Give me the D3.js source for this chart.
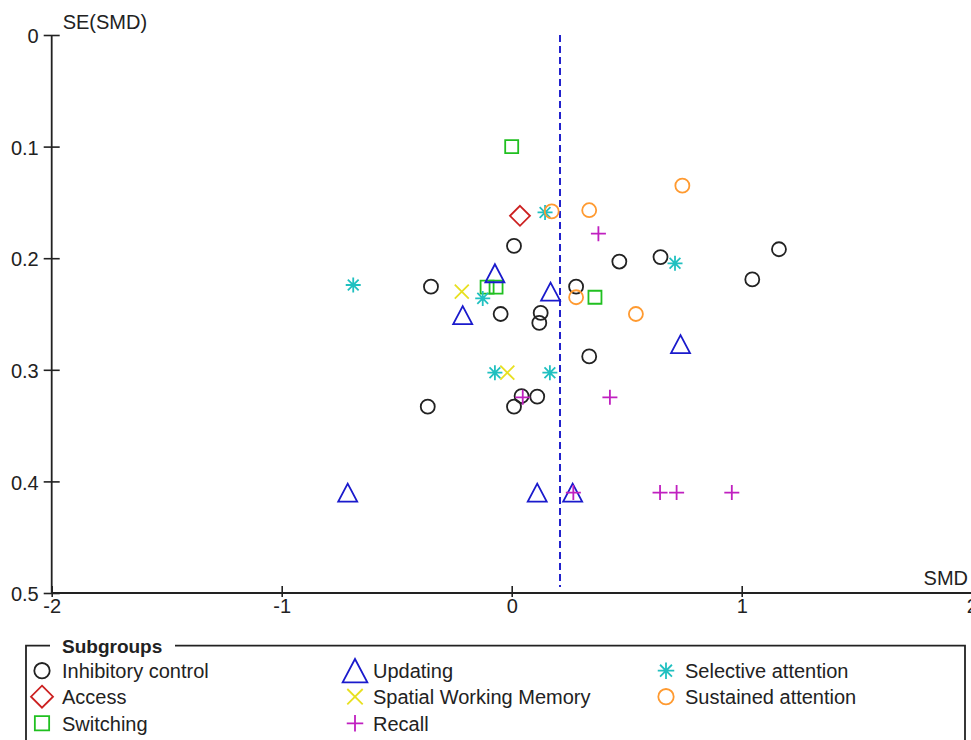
<!DOCTYPE html>
<html>
<head>
<meta charset="utf-8">
<script src="https://cdn.jsdelivr.net/npm/d3@7"></script>
<style>
  body { margin: 0; background: #fff; }
  svg { font-family: "Liberation Sans", Arial, sans-serif; }
  .tick text { font-size: 20px; fill: #222; }
</style>
</head>
<body>
<div class="chart"></div>
<script>
// funnel plot data: [SMD, SE(SMD)] per subgroup
let inhibitory = [[0.01, 0.189], [0.468, 0.203], [0.647, 0.199], [1.162, 0.192], [1.046, 0.219],
  [-0.351, 0.2255], [0.28, 0.2255], [-0.048, 0.250], [0.126, 0.249], [0.12, 0.258],
  [0.337, 0.288], [0.043, 0.3235], [0.111, 0.324], [0.01, 0.333], [-0.365, 0.333]];
let access = [[0.036, 0.162]];
let switching = [[0.0, 0.100], [-0.107, 0.226], [-0.068, 0.226], [0.362, 0.235]];
let updating = [[-0.073, 0.2135], [0.169, 0.230], [-0.213, 0.251], [0.734, 0.277],
  [-0.713, 0.410], [0.111, 0.410], [0.265, 0.410]];
let spatialWM = [[-0.217, 0.230], [-0.019, 0.3026]];
let recall = [[0.377, 0.178], [0.048, 0.3247], [0.427, 0.3247], [0.268, 0.410],
  [0.645, 0.410], [0.717, 0.410], [0.957, 0.410]];
let selective = [[0.145, 0.159], [0.71, 0.2046], [-0.689, 0.224], [-0.126, 0.236],
  [-0.073, 0.3026], [0.166, 0.3026]];
let sustained = [[0.174, 0.158], [0.337, 0.157], [0.742, 0.135], [0.28, 0.235], [0.54, 0.250]];

let pooledSMD = 0.21;
let xTicks = [-2, -1, 0, 1, 2];
let yTicks = [0, 0.1, 0.2, 0.3, 0.4, 0.5];

let groups = [
  {name: "Inhibitory control", shape: "circle", color: "#222222", data: inhibitory},
  {name: "Access", shape: "diamond", color: "#cc2020", data: access},
  {name: "Switching", shape: "square", color: "#20c020", data: switching},
  {name: "Updating", shape: "triangle", color: "#1a1acc", data: updating},
  {name: "Spatial Working Memory", shape: "cross", color: "#e8e020", data: spatialWM},
  {name: "Recall", shape: "plus", color: "#c020c0", data: recall},
  {name: "Selective attention", shape: "asterisk", color: "#20c0c0", data: selective},
  {name: "Sustained attention", shape: "circle", color: "#ff9a30", data: sustained}
];

let width = 971;
let height = 740;

let svg = d3.select(".chart")
  .append("svg")
  .attr("width", width)
  .attr("height", height);

let x = d3.scaleLinear().domain([-2, 2]).range([51.7, 971.7]);
let y = d3.scaleLinear().domain([0, 0.5]).range([35, 593]);

function shapePath(shape, k) {
  if (shape == "diamond") {
    let r = 10 * k;
    return "M0," + (-r) + "L" + r + ",0L0," + r + "L" + (-r) + ",0Z";
  }
  if (shape == "square") {
    let r = 6.5 * k;
    return "M" + (-r) + "," + (-r) + "H" + r + "V" + r + "H" + (-r) + "Z";
  }
  if (shape == "triangle") {
    let w = 9.5 * k, h = 9 * k;
    return "M0," + (-h) + "L" + w + "," + h + "L" + (-w) + "," + h + "Z";
  }
  if (shape == "cross") {
    let r = 7 * k;
    return "M" + (-r) + "," + (-r) + "L" + r + "," + r + "M" + r + "," + (-r) + "L" + (-r) + "," + r;
  }
  if (shape == "plus") {
    let r = 7.5 * k;
    return "M" + (-r) + ",0H" + r + "M0," + (-r) + "V" + r;
  }
  if (shape == "asterisk") {
    let r = 7.5 * k, d = r * 0.72;
    return "M" + (-r) + ",0H" + r + "M0," + (-r) + "V" + r +
      "M" + (-d) + "," + (-d) + "L" + d + "," + d + "M" + d + "," + (-d) + "L" + (-d) + "," + d;
  }
  // circle
  let r = 7 * k;
  return "M" + r + ",0A" + r + "," + r + " 0 1,1 " + (-r) + ",0A" + r + "," + r + " 0 1,1 " + r + ",0Z";
}

// axes
let yAxis = svg.append("g")
  .attr("transform", "translate(" + x(-2) + ",0)")
  .call(d3.axisLeft(y).tickValues(yTicks).tickSize(8).tickPadding(6)
    .tickFormat(function(d) { return d == 0 ? "0" : d3.format(".1f")(d); }));
yAxis.select(".domain").remove();
yAxis.selectAll(".tick line").attr("x1", -8).attr("x2", 8).attr("stroke", "#222").attr("stroke-width", 1.6);
yAxis.selectAll(".tick text").attr("x", -13).attr("dy", "0.38em");

let xAxis = svg.append("g")
  .attr("transform", "translate(0," + y(0.5) + ")")
  .call(d3.axisBottom(x).tickValues(xTicks).tickSize(4).tickPadding(4)
    .tickFormat(function(d) { return String(d); }));
xAxis.select(".domain").remove();
xAxis.selectAll(".tick line").attr("y1", -7).attr("y2", 4).attr("stroke", "#222").attr("stroke-width", 1.6);
xAxis.selectAll(".tick text").attr("y", 6).attr("dy", "0.72em");

svg.append("line")
  .attr("x1", x(-2)).attr("x2", width)
  .attr("y1", y(0.5)).attr("y2", y(0.5))
  .attr("stroke", "#222").attr("stroke-width", 1.8);
svg.append("line")
  .attr("x1", x(-2)).attr("x2", x(-2))
  .attr("y1", y(0)).attr("y2", y(0.5))
  .attr("stroke", "#222").attr("stroke-width", 1.8);

svg.append("text")
  .attr("x", x(-2) + 11).attr("y", 29)
  .attr("font-size", 20).attr("fill", "#222")
  .text("SE(SMD)");
svg.append("text")
  .attr("x", 968).attr("y", 585)
  .attr("text-anchor", "end")
  .attr("font-size", 20).attr("fill", "#222")
  .text("SMD");

// pooled estimate
svg.append("line")
  .attr("x1", x(pooledSMD)).attr("x2", x(pooledSMD))
  .attr("y1", y(0)).attr("y2", y(0.5) - 6)
  .attr("stroke", "#2222cc").attr("stroke-width", 2)
  .attr("stroke-dasharray", "7,4");

// points
groups.forEach(function(g) {
  svg.append("g")
    .selectAll("path")
    .data(g.data)
    .enter()
    .append("path")
    .attr("transform", function(d) { return "translate(" + x(d[0]) + "," + y(d[1]) + ")"; })
    .attr("d", shapePath(g.shape, 1))
    .attr("fill", "none")
    .attr("stroke", g.color)
    .attr("stroke-width", 1.8);
});

// legend
let legend = svg.append("g");
legend.append("path")
  .attr("d", "M50,645.7H26V760M175,645.7H965V760")
  .attr("fill", "none")
  .attr("stroke", "#222")
  .attr("stroke-width", 1.8);
legend.append("text")
  .attr("x", 62).attr("y", 645.7).attr("dy", "0.36em")
  .attr("font-size", 19).attr("font-weight", "bold").attr("fill", "#222")
  .text("Subgroups");

let colX = [42, 355, 666];
let textX = [62, 373, 685];
let rowY = [670.7, 696.7, 723.3];

let items = legend.selectAll(".item")
  .data(groups)
  .enter()
  .append("g")
  .attr("class", "item")
  .attr("transform", function(d, i) {
    return "translate(" + colX[Math.floor(i / 3)] + "," + rowY[i % 3] + ")";
  });
items.append("path")
  .attr("d", function(d) { return shapePath(d.shape, d.shape == "triangle" ? 1.3 : 1.1); })
  .attr("fill", "none")
  .attr("stroke", function(d) { return d.color; })
  .attr("stroke-width", 1.8);
items.append("text")
  .attr("x", function(d, i) { return textX[Math.floor(i / 3)] - colX[Math.floor(i / 3)]; })
  .attr("dy", "0.36em")
  .attr("font-size", 20)
  .attr("fill", "#222")
  .text(function(d) { return d.name; });
</script>
</body>
</html>
